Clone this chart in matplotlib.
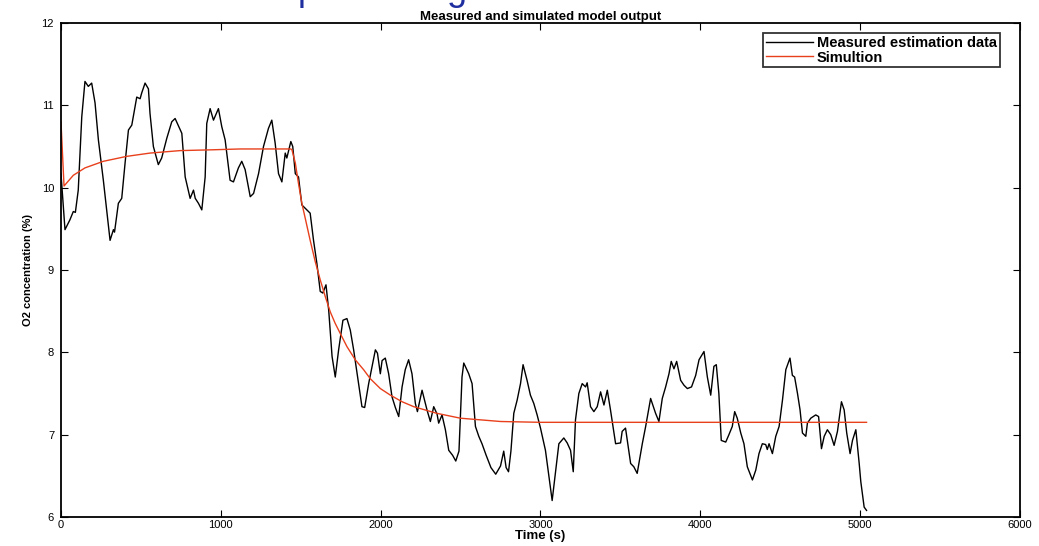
import matplotlib
matplotlib.use("Agg")
import matplotlib.pyplot as plt

plt.rcParams['font.family'] = ['Liberation Sans', 'DejaVu Sans']

# measured O2 concentration (%) vs time (s)
t_meas = [0, 25, 56, 77, 90, 108, 130, 150, 171, 192, 213, 234, 265, 307, 328, 335,
          359, 380, 401, 422, 443, 474, 495, 505, 526, 547, 557, 578, 609, 630, 662,
          693, 714, 735, 756, 777, 808, 829, 840, 860, 881, 902, 912, 933, 954, 985,
          1006, 1027, 1058, 1079, 1110, 1131, 1152, 1184, 1205, 1236, 1267, 1298, 1319,
          1340, 1361, 1382, 1403, 1413, 1438, 1450, 1466, 1486, 1507, 1528, 1559, 1580,
          1601, 1622, 1638, 1658, 1675, 1696, 1716, 1737, 1764, 1789, 1810, 1831, 1856,
          1883, 1900, 1925, 1967, 1980, 1998, 2009, 2029, 2050, 2071, 2092, 2113, 2134,
          2154, 2175, 2196, 2217, 2230, 2259, 2290, 2311, 2332, 2353, 2363, 2384, 2405,
          2426, 2450, 2470, 2490, 2509, 2520, 2551, 2572, 2593, 2614, 2634, 2660, 2690,
          2720, 2750, 2770, 2785, 2800, 2815, 2833, 2854, 2875, 2891, 2916, 2937, 2958,
          2979, 3000, 3031, 3073, 3115, 3146, 3167, 3188, 3205, 3219, 3240, 3261, 3282,
          3292, 3313, 3334, 3355, 3376, 3397, 3418, 3438, 3470, 3501, 3511, 3532, 3564,
          3584, 3605, 3637, 3658, 3689, 3720, 3741, 3762, 3783, 3804, 3818, 3835, 3852,
          3877, 3898, 3919, 3945, 3971, 3992, 4023, 4044, 4065, 4085, 4100, 4116, 4131,
          4159, 4179, 4200, 4215, 4231, 4253, 4273, 4294, 4326, 4347, 4367, 4388, 4409,
          4419, 4430, 4451, 4472, 4493, 4514, 4535, 4561, 4576, 4590, 4608, 4624, 4639,
          4660, 4670, 4691, 4722, 4740, 4758, 4775, 4795, 4816, 4837, 4858, 4883, 4900,
          4916, 4937, 4952, 4973, 4994, 5004, 5025, 5040]
o2_meas = [10.17, 9.49, 9.61, 9.71, 9.70, 9.97, 10.86, 11.29, 11.23, 11.27, 11.03, 10.58,
           10.09, 9.36, 9.49, 9.46, 9.81, 9.87, 10.30, 10.70, 10.76, 11.10, 11.08, 11.15,
           11.27, 11.20, 10.90, 10.50, 10.28, 10.36, 10.60, 10.80, 10.84, 10.75, 10.66,
           10.13, 9.87, 9.97, 9.87, 9.81, 9.73, 10.13, 10.78, 10.96, 10.82, 10.96, 10.74,
           10.58, 10.09, 10.07, 10.24, 10.32, 10.22, 9.89, 9.93, 10.17, 10.50, 10.72,
           10.82, 10.54, 10.17, 10.07, 10.42, 10.36, 10.56, 10.50, 10.17, 10.13, 9.79,
           9.75, 9.69, 9.36, 9.08, 8.74, 8.72, 8.82, 8.51, 7.95, 7.70, 8.03, 8.39, 8.41,
           8.27, 8.03, 7.70, 7.34, 7.33, 7.62, 8.03, 7.99, 7.74, 7.90, 7.93, 7.74, 7.46,
           7.33, 7.22, 7.58, 7.79, 7.91, 7.74, 7.38, 7.28, 7.54, 7.30, 7.16, 7.34, 7.25,
           7.14, 7.24, 7.06, 6.81, 6.75, 6.68, 6.80, 7.70, 7.87, 7.74, 7.62, 7.10, 6.98,
           6.89, 6.75, 6.60, 6.52, 6.62, 6.80, 6.60, 6.55, 6.80, 7.26, 7.42, 7.62, 7.85,
           7.66, 7.48, 7.38, 7.24, 7.08, 6.81, 6.20, 6.89, 6.96, 6.90, 6.81, 6.55, 7.18,
           7.50, 7.62, 7.58, 7.63, 7.34, 7.28, 7.34, 7.52, 7.36, 7.54, 7.30, 6.89, 6.90,
           7.04, 7.08, 6.65, 6.61, 6.53, 6.89, 7.10, 7.44, 7.26, 7.16, 7.44, 7.58, 7.74,
           7.89, 7.80, 7.89, 7.66, 7.60, 7.56, 7.58, 7.72, 7.91, 8.01, 7.70, 7.48, 7.83,
           7.85, 7.50, 6.93, 6.91, 7.00, 7.10, 7.28, 7.20, 7.02, 6.89, 6.61, 6.45, 6.57,
           6.77, 6.89, 6.88, 6.82, 6.89, 6.77, 6.98, 7.10, 7.42, 7.79, 7.93, 7.72, 7.70,
           7.50, 7.30, 7.02, 6.98, 7.14, 7.20, 7.24, 7.22, 6.83, 6.98, 7.06, 7.00, 6.87,
           7.04, 7.40, 7.30, 7.02, 6.77, 6.93, 7.06, 6.65, 6.43, 6.12, 6.08]

# simulated model output
t_sim = [0, 19, 77, 150, 265, 411, 557, 745, 950, 1121, 1300, 1438, 1445, 1466, 1486,
         1507, 1528, 1559, 1591, 1622, 1653, 1685, 1716, 1747, 1789, 1841, 1893, 1935,
         1998, 2061, 2134, 2207, 2350, 2499, 2750, 3000, 3300, 3689, 4000, 4500, 5040]
o2_sim = [10.80, 10.02, 10.15, 10.24, 10.32, 10.38, 10.42, 10.45, 10.46, 10.47, 10.47,
          10.47, 10.46, 10.30, 10.05, 9.81, 9.63, 9.36, 9.10, 8.88, 8.68, 8.49, 8.35,
          8.23, 8.07, 7.91, 7.79, 7.68, 7.56, 7.48, 7.40, 7.34, 7.26, 7.20, 7.16, 7.15,
          7.15, 7.15, 7.15, 7.15, 7.15]

fig = plt.figure(figsize=(10.39, 5.46), dpi=100)
ax = fig.add_axes([0.0587, 0.0531, 0.9230, 0.9048])

ax.plot(t_meas, o2_meas, color='black', lw=1.0, label='Measured estimation data')
ax.plot(t_sim, o2_sim, color='#e8401c', lw=1.0, label='Simultion')

ax.set_xlim(0, 6000)
ax.set_ylim(6, 12)
ax.set_xticks(range(0, 6001, 1000))
ax.set_yticks(range(6, 13))
ax.tick_params(direction='in', length=5, width=0.8, labelsize=8,
               top=True, right=True)
ax.tick_params(axis='y', pad=5)
ax.tick_params(axis='x', pad=2)
for s in ax.spines.values():
    s.set_linewidth(1.3)

ax.set_title('Measured and simulated model output', fontsize=9.5, fontweight='bold', pad=2)
ax.set_xlabel('Time (s)', fontsize=9.5, fontweight='bold', labelpad=0)
ax.set_ylabel('O2 concentration (%)', fontsize=8, fontweight='bold', labelpad=6)

leg = ax.legend(loc='upper right', bbox_to_anchor=(0.979, 0.980),
                prop={'weight': 'bold', 'size': 10.5}, frameon=True, fancybox=False,
                handlelength=3.2, handletextpad=0.3, borderpad=0.2, labelspacing=0.05,
                borderaxespad=0.0)
leg.get_frame().set_edgecolor('black')
leg.get_frame().set_linewidth(1.3)

# cut-off slide heading above the chart
fig.text(298 / 1039, 1.0, 'p', color='#1f2fa0', fontsize=26, ha='left', va='baseline')
fig.text(457 / 1039, 1.0, 'g', color='#1f2fa0', fontsize=26, ha='center', va='baseline')

fig.savefig('out.png', dpi=100)
